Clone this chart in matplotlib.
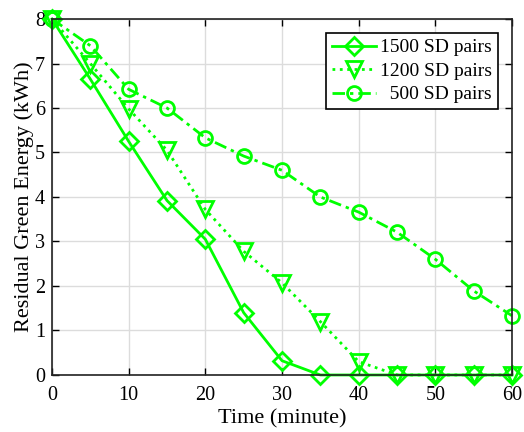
import matplotlib
matplotlib.use("Agg")
import matplotlib.pyplot as plt

time = [0, 5, 10, 15, 20, 25, 30, 35, 40, 45, 50, 55, 60]
e1500 = [8.0, 6.65, 5.25, 3.92, 3.05, 1.4, 0.32, 0.0, 0.0, 0.0, 0.0, 0.0, 0.0]
e1200 = [8.0, 7.0, 5.98, 5.05, 3.72, 2.78, 2.07, 1.2, 0.3, 0.0, 0.0, 0.0, 0.0]
e500 = [8.0, 7.4, 6.42, 6.0, 5.33, 4.92, 4.6, 4.0, 3.66, 3.21, 2.6, 1.89, 1.33]
labels = ["1500 SD pairs", "1200 SD pairs", "  500 SD pairs"]

plt.rcParams['font.family'] = ['Liberation Serif', 'DejaVu Serif']

fig = plt.figure(figsize=(5.24, 4.32), dpi=100)
ax = fig.add_axes([0.0992, 0.132, 0.878, 0.824])

green = '#00FF00'
kw = dict(color=green, linewidth=2.0, markerfacecolor='none', markeredgecolor=green,
          markeredgewidth=2.0, clip_on=False)
ax.plot(time, e1500, linestyle='-', marker='D', markersize=9, label=labels[0], **kw)
ax.plot(time, e1200, linestyle=':', marker='v', markersize=11, label=labels[1], **kw)
ax.plot(time, e500, linestyle=(0, (4.5, 1.8, 1.2, 1.8)), marker='o', markersize=10, label=labels[2], **kw)

ax.set_xlim(0, 60)
ax.set_ylim(0, 8)
ax.set_xticks(range(0, 61, 10))
ax.set_yticks(range(0, 9))
ax.grid(True, color='#dcdcdc', linewidth=1)
ax.set_axisbelow(True)
ax.tick_params(direction='in', top=True, right=True, labelsize=14.5, length=5, width=1)
ax.tick_params(axis='x', pad=8)
ax.tick_params(axis='y', pad=5)
for s in ax.spines.values():
    s.set_linewidth(1.2)
    s.set_color('#222222')
ax.set_xlabel('Time (minute)', fontsize=16, labelpad=3)
ax.set_ylabel('Residual Green Energy (kWh)', fontsize=16, labelpad=1)

leg = ax.legend(loc='upper right', fontsize=14, frameon=True, fancybox=False,
                edgecolor='black', framealpha=1, borderpad=0.3, labelspacing=0.3,
                handlelength=2.3, handletextpad=0.2, borderaxespad=0.72)
leg.get_frame().set_linewidth(1.2)
leg.set_zorder(5)

fig.savefig('out.png', dpi=100)
